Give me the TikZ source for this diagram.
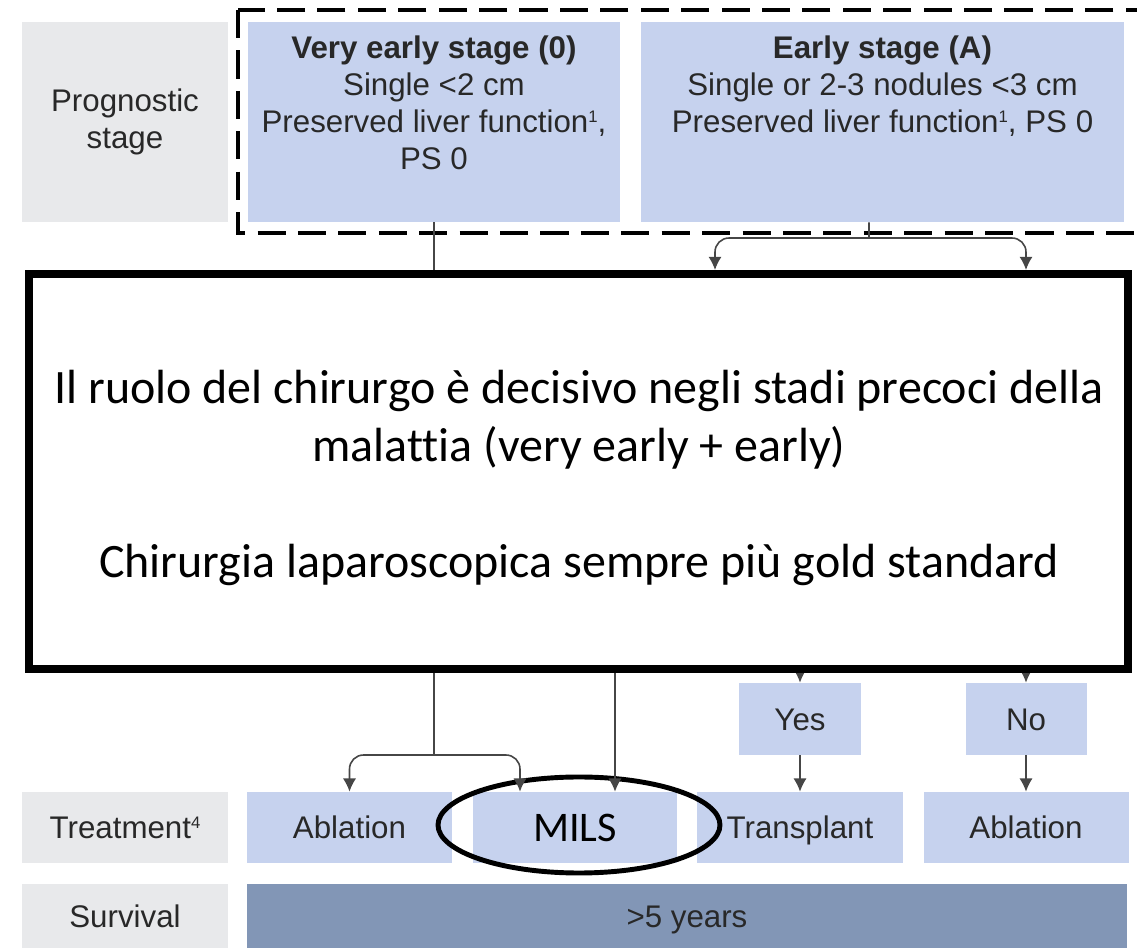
\documentclass[tikz,border=0pt]{standalone}
\usepackage{fontspec}
\setmainfont{Liberation Sans}
\newfontfamily\calibri[Ligatures=NoCommon]{Carlito}
\usetikzlibrary{arrows.meta,positioning}

\definecolor{boxblue}{RGB}{198,210,238}
\definecolor{labgray}{RGB}{232,233,235}
\definecolor{survblue}{RGB}{130,150,182}
\definecolor{txtgray}{RGB}{40,40,40}
\definecolor{lingray}{RGB}{70,70,70}

\newcommand{\fnmark}[1]{\raisebox{5.6pt}{\fontsize{9.5}{10}\selectfont #1}}

\begin{document}
\begin{tikzpicture}[
  >={Latex[length=7.5pt,width=7.5pt]},
  every node/.style={text=txtgray, font=\fontsize{17.8}{21}\selectfont, inner sep=0pt},
  lab/.style={fill=labgray, minimum width=4.12cm},
  stg/.style={fill=boxblue},
  one/.style={text height=12.8pt, text depth=0pt},
  lin/.style={draw=lingray, line width=0.9pt}
]

\clip (0,0) rectangle (22.74,18.96);

% top row
\node[lab, minimum height=4cm, align=center] (A) at (2.5,16.52) {Prognostic\\stage};
\node[stg, minimum width=7.44cm, minimum height=4cm] (B) at (8.68,16.52) {};
\node[stg, minimum width=9.66cm, minimum height=4cm] (C) at (17.65,16.52) {};

\node[align=center, below=0.28cm of B.north] (B1) {\textbf{Very early stage (0)}\\Single <2 cm\\Preserved liver function\fnmark{1},\\PS 0};
\node[align=center, below=0.28cm of C.north] (C1) {\textbf{Early stage (A)}\\Single or 2-3 nodules <3 cm\\Preserved liver function\fnmark{1}, PS 0};

\draw[line width=2.8pt, dash pattern=on 16pt off 7pt] (4.76,18.76) rectangle (23.2,14.3);

% yes / no
\node[stg, one, minimum width=2.44cm, minimum height=1.44cm] (E) at (16.0,4.58) {Yes};
\node[stg, one, minimum width=2.42cm, minimum height=1.44cm] (F) at (20.52,4.58) {No};

% treatment
\node[lab, one, minimum height=1.42cm] (G) at (2.5,2.41) {Treatment\fnmark{4}};
\node[stg, one, minimum width=4.1cm, minimum height=1.42cm] (H) at (6.99,2.41) {Ablation};
\node[stg, minimum width=4.08cm, minimum height=1.42cm, text=black, font=\calibri\fontsize{24}{28}\selectfont] (I) at (11.5,2.41) {MILS};
\node[stg, one, minimum width=4.12cm, minimum height=1.42cm] (J) at (16.0,2.41) {Transplant};
\node[stg, one, minimum width=4.1cm, minimum height=1.42cm] (K) at (20.52,2.41) {Ablation};

% survival
\node[lab, one, minimum height=1.28cm] (L) at (2.5,0.64) {Survival};
\node[fill=survblue, one, minimum width=17.6cm, minimum height=1.28cm] (M) at (13.74,0.64) {>5 years};

\draw[line width=2.8pt] (I.center) ++(0.08,0.05) ellipse (2.82cm and 0.96cm);

% connectors
\coordinate (b0) at (8.68,3.86);
\coordinate (c0) at (17.38,14.2);
\coordinate (c1) at (14.3,13.56);
\coordinate (c2) at (20.52,13.56);
\coordinate (d0) at (12.3,9);
\coordinate (e0) at (16.0,8);
\coordinate (f0) at (20.52,8);

\draw[lin] (B.south) -- (b0);
\draw[lin,->,rounded corners=8pt] (b0) -| (H.north);
\draw[lin,->,rounded corners=8pt] (b0) -| ([xshift=-1.1cm]I.north);
\draw[lin,->] (d0) -- ([xshift=0.8cm]I.north);

\draw[lin] ([xshift=-0.27cm]C.south) -- (c0);
\draw[lin,->,rounded corners=8pt] (c0) -| (c1);
\draw[lin,->,rounded corners=8pt] (c0) -| (c2);

\draw[lin,->] (e0) -- (E.north);
\draw[lin,->] (f0) -- (F.north);
\draw[lin,->] (E) -- (J);
\draw[lin,->] (F) -- (K);

% big box
\node[draw=black, line width=0.16cm, fill=white, minimum width=21.98cm, minimum height=7.91cm] (D) at (11.57,9.525) {};
\node[align=center, text=black, font=\calibri\fontsize{27.3}{33}\selectfont] (D1) at (11.58,9.40) {Il ruolo del chirurgo è decisivo negli stadi precoci della\\malattia (very early + early)\\[33pt]Chirurgia laparoscopica sempre più gold standard};

\end{tikzpicture}
\end{document}
